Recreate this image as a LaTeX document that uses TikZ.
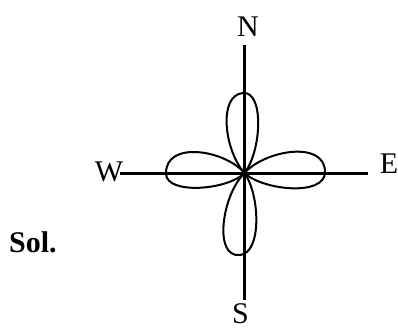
\documentclass[tikz,border=0pt]{standalone}
\usepackage{fontspec}
\setmainfont{Liberation Serif}
\begin{document}
\begin{tikzpicture}[x=1pt,y=-1pt,
  axis/.style={line width=3pt},
  lobe/.style={line width=2pt, line join=round},
  lab/.style={inner sep=0pt, anchor=base, text depth=0pt, font=\fontsize{30}{36}\selectfont}]
\useasboundingbox (0,0) rectangle (398,327);
\coordinate (C) at (244.5,173);
\coordinate (top) at (244.5,45);
\coordinate (bot) at (244.5,300);
\coordinate (lft) at (120,173);
\coordinate (rgt) at (368,173);
\draw[axis] (top) -- (bot);
\draw[axis] (lft) -- (rgt);
% lobes
\draw[lobe] (C) .. controls (224,150) and (218,95) .. (243,93)
  .. controls (264,91) and (262,150) .. (C);
\draw[lobe] (C) .. controls (222,195) and (213,258) .. (240,255)
  .. controls (262,253) and (260,195) .. (C);
\draw[lobe] (C) .. controls (225,150) and (165,140) .. (166,174)
  .. controls (167,195) and (228,190) .. (C);
\draw[lobe] (C) .. controls (265,150) and (325,140) .. (325,172)
  .. controls (325,197) and (262,190) .. (C);
% labels
\node[lab] (N) at (248,36) {N};
\node[lab] (S) at (240.5,323.5) {S};
\node[lab] (W) at (109,181) {W};
\node[lab] (E) at (389,173) {E};
\node[lab, anchor=base west, font=\fontsize{30}{36}\selectfont\bfseries] (sol) at (9,252) {Sol.};
\end{tikzpicture}
\end{document}
